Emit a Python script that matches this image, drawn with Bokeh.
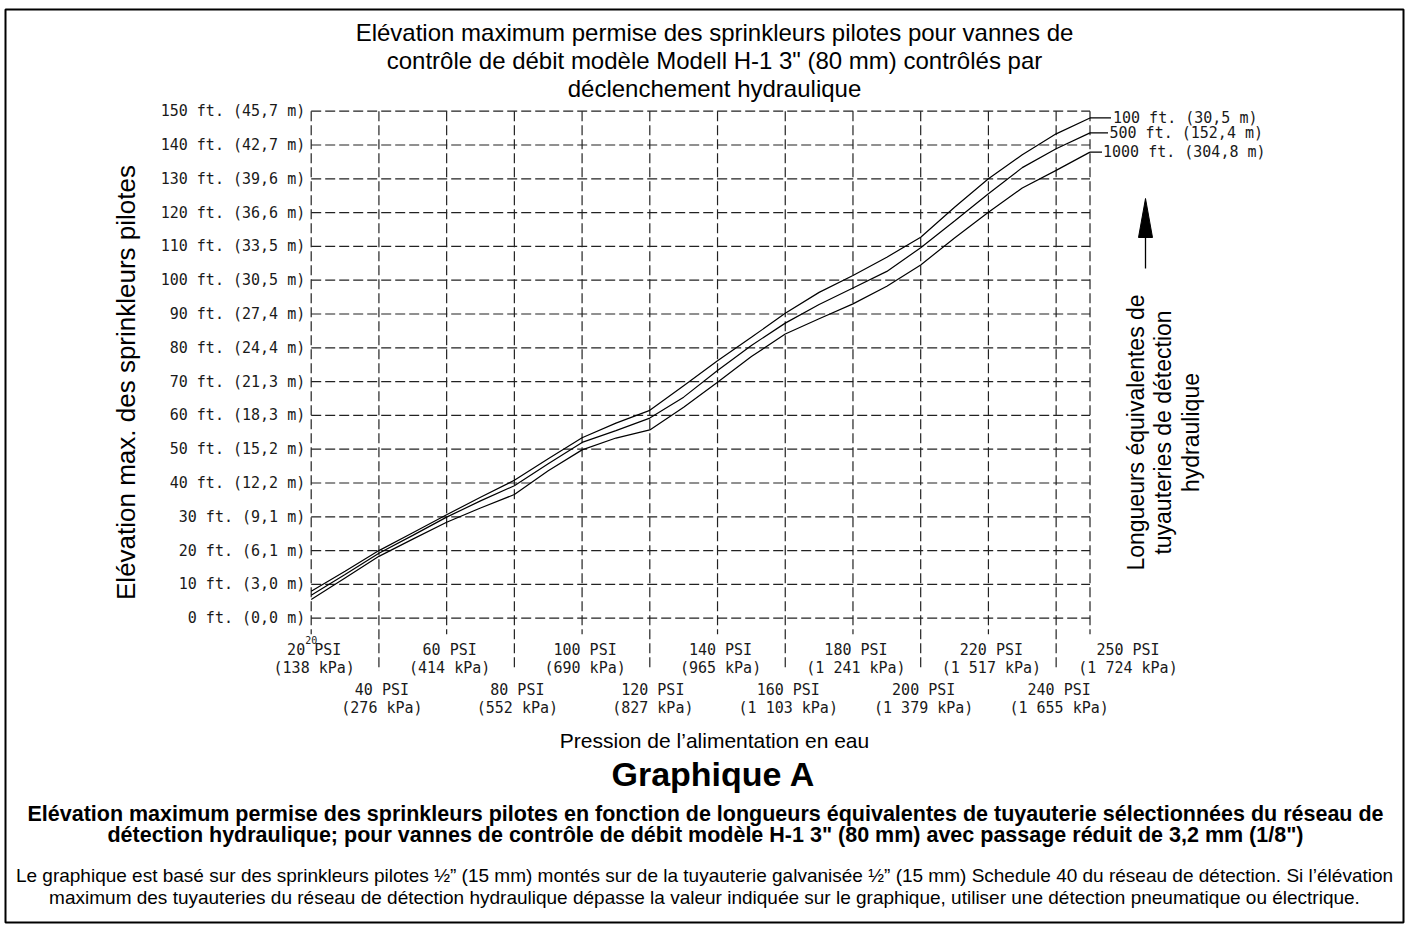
import math
from bokeh.plotting import figure
from bokeh.models import Range1d, Label, ColumnDataSource
from bokeh.core.properties import value
from bokeh.embed import file_html
from bokeh.resources import INLINE

# ---------------- data ----------------
psi = [20, 30, 40, 50, 60, 70, 80, 90, 100, 110, 120, 130, 140, 150, 160, 170,
       180, 190, 200, 210, 220, 230, 240, 250]
elev_100 = [8.0, 13.9, 20.0, 25.3, 30.6, 35.8, 40.8, 47.2, 53.4, 57.7, 61.5, 68.8,
            76.2, 83.1, 90.2, 96.4, 101.4, 106.8, 112.7, 121.6, 130.0, 137.1, 143.3, 148.0]
elev_500 = [6.8, 12.9, 19.2, 24.5, 29.9, 34.7, 39.2, 45.7, 52.0, 55.5, 59.2, 65.4,
            73.3, 80.7, 87.3, 92.8, 97.7, 102.6, 109.6, 117.5, 125.6, 133.3, 138.9, 143.6]
elev_1000 = [5.5, 11.9, 18.3, 23.4, 28.4, 32.6, 36.6, 43.6, 49.8, 53.3, 55.7, 62.4,
             69.8, 77.4, 84.1, 88.6, 93.0, 98.2, 104.5, 112.5, 120.1, 127.3, 132.5, 137.9]
series = [elev_100, elev_500, elev_1000]
series_labels = ["100 ft. (30,5 m)", "500 ft. (152,4 m)", "1000 ft. (304,8 m)"]

psi_ticks = [20, 40, 60, 80, 100, 120, 140, 160, 180, 200, 220, 240, 250]
kpa_ticks = ["138", "276", "414", "552", "690", "827", "965", "1 103", "1 241",
             "1 379", "1 517", "1 655", "1 724"]
ft_ticks = [0, 10, 20, 30, 40, 50, 60, 70, 80, 90, 100, 110, 120, 130, 140, 150]
m_ticks = ["0,0", "3,0", "6,1", "9,1", "12,2", "15,2", "18,3", "21,3", "24,4",
           "27,4", "30,5", "33,5", "36,6", "39,6", "42,7", "45,7"]

title_lines = ["Elévation maximum permise des sprinkleurs pilotes pour vannes de",
               "contrôle de débit modèle Modell H-1 3\" (80 mm) contrôlés par",
               "déclenchement hydraulique"]
y_title = "Elévation max. des sprinkleurs pilotes"
x_title = "Pression de l’alimentation en eau"
right_title = ["Longueurs équivalentes de", "tuyauteries de détection", "hydraulique"]
caption_title = "Graphique A"
caption_bold = ["Elévation maximum permise des sprinkleurs pilotes en fonction de longueurs équivalentes de tuyauterie sélectionnées du réseau de",
                "détection hydraulique; pour vannes de contrôle de débit modèle H-1 3\" (80 mm) avec passage réduit de 3,2 mm (1/8\")"]
caption_note = ["Le graphique est basé sur des sprinkleurs pilotes ½” (15 mm) montés sur de la tuyauterie galvanisée ½” (15 mm) Schedule 40 du réseau de détection. Si l’élévation",
                "maximum des tuyauteries du réseau de détection hydraulique dépasse la valeur indiquée sur le graphique, utiliser une détection pneumatique ou électrique."]

# ---------------- layout ----------------
W, H = 1409, 930
FRAME_L, FRAME_T, FRAME_R, FRAME_B = 5, 9, 1403, 922
X0_PX, X1_PX = 310.7, 1089.5     # pixel of 20 PSI and 250 PSI
Y0_PX, Y1_PX = 617.7, 110.7      # pixel of 0 ft and 150 ft
PSI_MIN, PSI_MAX = psi_ticks[0], psi_ticks[-1]
FT_MIN, FT_MAX = ft_ticks[0], ft_ticks[-1]
kx = (X1_PX - X0_PX) / (PSI_MAX - PSI_MIN)
ky = (Y0_PX - Y1_PX) / (FT_MAX - FT_MIN)


def dx(px):
    return PSI_MIN + (px - X0_PX) / kx


def dy(py):
    return FT_MIN + (Y0_PX - py) / ky


p = figure(width=W, height=H,
           x_range=Range1d(dx(FRAME_L), dx(FRAME_R)),
           y_range=Range1d(dy(FRAME_B), dy(FRAME_T)),
           x_axis_type=None, y_axis_type=None,
           toolbar_location=None, output_backend="svg",
           min_border_left=FRAME_L, min_border_right=W - FRAME_R,
           min_border_top=FRAME_T, min_border_bottom=H - FRAME_B)
p.outline_line_color = "black"
p.outline_line_width = 2
p.background_fill_color = "white"
p.border_fill_color = "white"

GRID = dict(line_color="#222222", line_width=1.2, line_dash="10 4")
MONO = value("DejaVu Sans Mono")
SANS = "Liberation Sans"
INK = "#1a1a1a"

# horizontal grid
p.segment(x0=[PSI_MIN] * len(ft_ticks), y0=ft_ticks,
          x1=[PSI_MAX] * len(ft_ticks), y1=ft_ticks, **GRID)
# vertical grid (alternating extension below the axis for two label rows)
row = [1 if (i % 2 == 0) else 2 for i in range(len(psi_ticks))]
ext = [dy(Y0_PX + (16 if r == 1 else 52)) for r in row]
p.segment(x0=psi_ticks, y0=[FT_MAX] * len(psi_ticks), x1=psi_ticks, y1=ext, **GRID)

# curves
for s in series:
    p.line(psi, s, line_color="black", line_width=1.2)

# leaders + series labels
lead_px = [21, 18, 12]
text_px = [23, 19.5, 13]
ends = [s[-1] for s in series]
p.segment(x0=[psi[-1]] * 3, y0=ends, x1=[psi[-1] + l / kx for l in lead_px], y1=ends,
          line_color="black", line_width=1.2)
p.text(x=[psi[-1]] * 3, y=ends, text=series_labels, x_offset=text_px,
       text_align="left", text_baseline="middle", text_font=MONO,
       text_font_size="15px", text_color=INK)

# y tick labels
p.text(x=[PSI_MIN] * len(ft_ticks), y=ft_ticks,
       text=[f"{f} ft. ({m} m)" for f, m in zip(ft_ticks, m_ticks)],
       x_offset=-6, text_align="right", text_baseline="middle",
       text_font=MONO, text_font_size="15px", text_color=INK)

# x tick labels (two rows)
xoff = [38 if v == PSI_MAX else 3 for v in psi_ticks]
src = ColumnDataSource(dict(
    x=psi_ticks, y=[FT_MIN] * len(psi_ticks),
    psi_txt=[f"{v} PSI" for v in psi_ticks],
    kpa_txt=[f"({k} kPa)" for k in kpa_ticks],
    xo=xoff,
    yo1=[32 if r == 1 else 72 for r in row],
    yo2=[50 if r == 1 else 90 for r in row],
))
for col, yo in (("psi_txt", "yo1"), ("kpa_txt", "yo2")):
    p.text(x="x", y="y", text=col, x_offset="xo", y_offset=yo, source=src,
           text_align="center", text_baseline="middle", text_font=MONO,
           text_font_size="15px", text_color=INK)
p.text(x=[PSI_MIN], y=[FT_MIN], text=["20"], y_offset=22, text_align="center",
       text_baseline="middle", text_font=MONO, text_font_size="10px", text_color=INK)

# arrow on right side
AX = 1145
p.segment(x0=[dx(AX)], y0=[dy(268)], x1=[dx(AX)], y1=[dy(232)], line_color="black", line_width=1.3)
p.patch([dx(AX - 7), dx(AX), dx(AX + 7)], [dy(237), dy(198), dy(237)],
        fill_color="black", line_color="black")


def lab(text, px, py, size, bold=False, angle=0.0):
    p.add_layout(Label(x=dx(px), y=dy(py), text=text, angle=angle,
                       text_align="center", text_baseline="middle",
                       text_font=SANS, text_font_size=f"{size}px",
                       text_font_style="bold" if bold else "normal",
                       text_color="black"))


for i, t in enumerate(title_lines):
    lab(t, 714, 32 + 28 * i, 24)
lab(y_title, 125, 382, 26, angle=math.pi / 2)
for i, t in enumerate(right_title):
    lab(t, 1135 + 27.5 * i, 432, 23, angle=math.pi / 2)
lab(x_title, 714, 740, 21)
lab(caption_title, 713, 773, 34, bold=True)
for i, t in enumerate(caption_bold):
    lab(t, 705, 813 + 21 * i, 21.5, bold=True)
for i, t in enumerate(caption_note):
    lab(t, 704, 875 + 22 * i, 19)

open("out.html", "w").write(file_html(p, INLINE))
